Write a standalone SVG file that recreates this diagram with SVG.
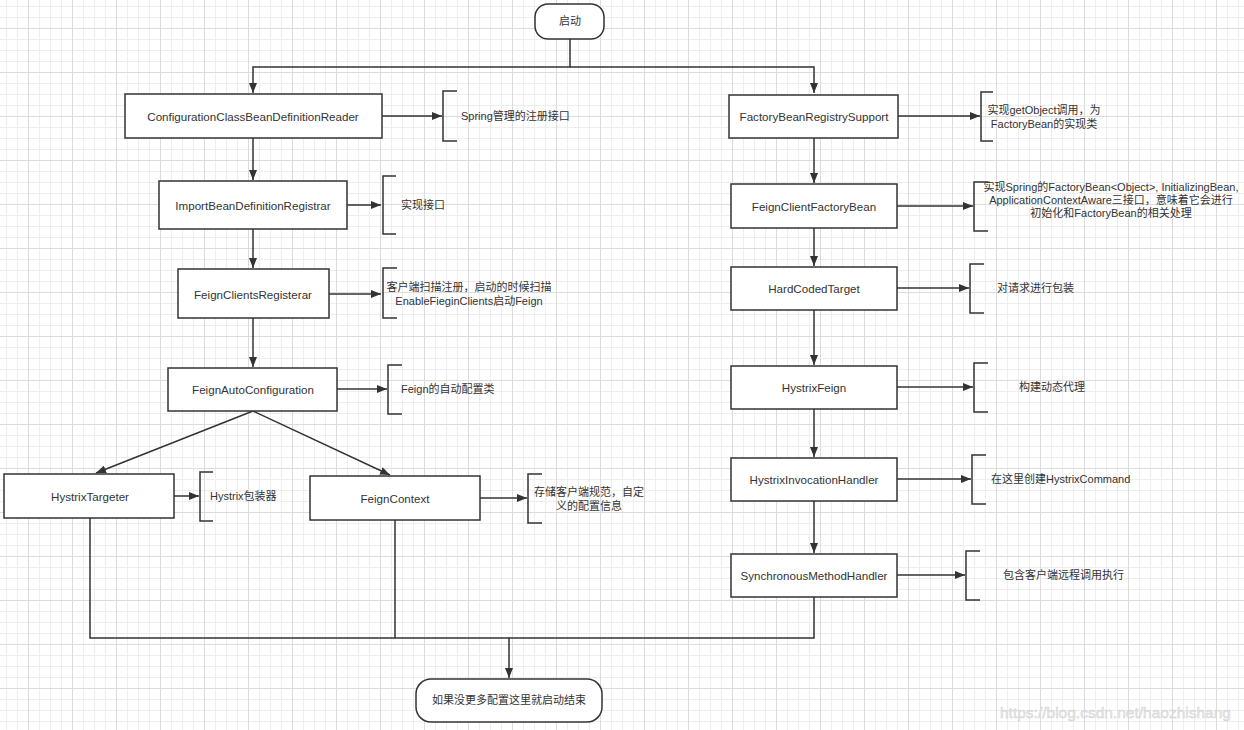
<svg xmlns="http://www.w3.org/2000/svg" width="1244" height="730" viewBox="0 0 1244 730">
<style>
.box{fill:#fff;stroke:#333;stroke-width:1.5}
.br{fill:none;stroke:#333;stroke-width:1.5}
.ln{fill:none;stroke:#333;stroke-width:1.5}
.t{font-family:"Liberation Sans","Noto Sans CJK SC",sans-serif;font-size:11px;fill:#333;dominant-baseline:central}
.b{font-size:11.6px}
.c{text-anchor:middle}
</style>
<defs>
<pattern id="grid" x="6" y="6" width="44" height="44" patternUnits="userSpaceOnUse">
<path d="M0.5,0V44M11.5,0V44M33.5,0V44M0,0.5H44M0,11.5H44M0,33.5H44" stroke="#eeeeee" stroke-width="1" fill="none"/>
<path d="M22.5,0V44M0,22.5H44" stroke="#dcdcdc" stroke-width="1" fill="none"/>
</pattern>
<marker id="arr" markerWidth="10" markerHeight="8" refX="10" refY="4" orient="auto" markerUnits="userSpaceOnUse">
<path d="M0,0L10,4L0,8z" fill="#333"/>
</marker>
</defs>
<rect width="1244" height="730" fill="#fff"/>
<rect width="1244" height="730" fill="url(#grid)"/>

<g id="connectors">
<path class="ln" d="M570,39V67H253V93" marker-end="url(#arr)"/>
<path class="ln" d="M570,67H814V93" marker-end="url(#arr)"/>
<path class="ln" d="M253,138V180" marker-end="url(#arr)"/>
<path class="ln" d="M253,229V268" marker-end="url(#arr)"/>
<path class="ln" d="M253,318V367" marker-end="url(#arr)"/>
<path class="ln" d="M253,411L96,473" marker-end="url(#arr)"/>
<path class="ln" d="M253,411L390,475" marker-end="url(#arr)"/>
<path class="ln" d="M814,138V183" marker-end="url(#arr)"/>
<path class="ln" d="M814,228V266" marker-end="url(#arr)"/>
<path class="ln" d="M814,310V365" marker-end="url(#arr)"/>
<path class="ln" d="M814,409V457" marker-end="url(#arr)"/>
<path class="ln" d="M814,501V553" marker-end="url(#arr)"/>
<path class="ln" d="M90,518V638H509V678" marker-end="url(#arr)"/>
<path class="ln" d="M395,520V638"/>
<path class="ln" d="M814,597V638H509"/>
<path class="ln" d="M382,116H442" marker-end="url(#arr)"/>
<path class="ln" d="M347,205H381" marker-end="url(#arr)"/>
<path class="ln" d="M329,294H381" marker-end="url(#arr)"/>
<path class="ln" d="M337,389H387" marker-end="url(#arr)"/>
<path class="ln" d="M174,496H199" marker-end="url(#arr)"/>
<path class="ln" d="M480,498H527" marker-end="url(#arr)"/>
<path class="ln" d="M898,116H980" marker-end="url(#arr)"/>
<path class="ln" d="M897,206H973" marker-end="url(#arr)"/>
<path class="ln" d="M897,288H969" marker-end="url(#arr)"/>
<path class="ln" d="M897,387H973" marker-end="url(#arr)"/>
<path class="ln" d="M897,479H971" marker-end="url(#arr)"/>
<path class="ln" d="M897,575H965" marker-end="url(#arr)"/>
</g>

<g id="start">
<rect class="box" x="535" y="4" width="69" height="35" rx="13"/>
<text class="t c" x="570" y="21">启动</text>
</g>
<g id="end">
<rect class="box" x="416" y="679" width="186" height="43" rx="15"/>
<text class="t c" x="509" y="700">如果没更多配置这里就启动结束</text>
</g>

<g id="n-configReader">
<rect class="box" x="125" y="94" width="257" height="44"/>
<text class="t b c" x="253" y="116">ConfigurationClassBeanDefinitionReader</text>
</g>
<g id="note-configReader">
<path class="br" d="M457,91H443V141H457"/>
<text class="t" x="461" y="116">Spring管理的注册接口</text>
</g>

<g id="n-importReg">
<rect class="box" x="159" y="181" width="188" height="48"/>
<text class="t b c" x="253" y="205">ImportBeanDefinitionRegistrar</text>
</g>
<g id="note-importReg">
<path class="br" d="M396,176H383V234H396"/>
<text class="t" x="401" y="205">实现接口</text>
</g>

<g id="n-clientsReg">
<rect class="box" x="178" y="269" width="151" height="49"/>
<text class="t b c" x="253" y="294">FeignClientsRegisterar</text>
</g>
<g id="note-clientsReg">
<path class="br" d="M397,268H383V318H397"/>
<text class="t c" x="469" y="287">客户端扫描注册，启动的时候扫描</text>
<text class="t c" x="469" y="301">EnableFieginClients启动Feign</text>
</g>

<g id="n-autoConfig">
<rect class="box" x="168" y="368" width="169" height="43"/>
<text class="t b c" x="253" y="389">FeignAutoConfiguration</text>
</g>
<g id="note-autoConfig">
<path class="br" d="M402,365H388V414H402"/>
<text class="t" x="401" y="389">Feign的自动配置类</text>
</g>

<g id="n-hystrixTargeter">
<rect class="box" x="4" y="474" width="170" height="44"/>
<text class="t b c" x="90" y="496">HystrixTargeter</text>
</g>
<g id="note-hystrixTargeter">
<path class="br" d="M213,472H200V521H213"/>
<text class="t" x="210" y="496">Hystrix包装器</text>
</g>

<g id="n-feignContext">
<rect class="box" x="310" y="476" width="170" height="44"/>
<text class="t b c" x="395" y="498">FeignContext</text>
</g>
<g id="note-feignContext">
<path class="br" d="M542,474H528V523H542"/>
<text class="t c" x="589" y="492">存储客户端规范，自定</text>
<text class="t c" x="589" y="506">义的配置信息</text>
</g>

<g id="n-factoryBeanReg">
<rect class="box" x="729" y="95" width="169" height="43"/>
<text class="t b c" x="814" y="116">FactoryBeanRegistrySupport</text>
</g>
<g id="note-factoryBeanReg">
<path class="br" d="M993,92H981V141H993"/>
<text class="t c" x="1044" y="110">实现getObject调用，为</text>
<text class="t c" x="1044" y="124">FactoryBean的实现类</text>
</g>

<g id="n-clientFactoryBean">
<rect class="box" x="731" y="184" width="166" height="44"/>
<text class="t b c" x="814" y="206">FeignClientFactoryBean</text>
</g>
<g id="note-clientFactoryBean">
<path class="br" d="M988,182H974V231H988"/>
<text class="t c" x="1111" y="187">实现Spring的FactoryBean&lt;Object&gt;, InitializingBean,</text>
<text class="t c" x="1111" y="200">ApplicationContextAware三接口，意味着它会进行</text>
<text class="t c" x="1111" y="213">初始化和FactoryBean的相关处理</text>
</g>

<g id="n-hardCoded">
<rect class="box" x="731" y="267" width="166" height="43"/>
<text class="t b c" x="814" y="288">HardCodedTarget</text>
</g>
<g id="note-hardCoded">
<path class="br" d="M984,264H970V313H984"/>
<text class="t" x="997" y="288">对请求进行包装</text>
</g>

<g id="n-hystrixFeign">
<rect class="box" x="731" y="366" width="166" height="43"/>
<text class="t b c" x="814" y="387">HystrixFeign</text>
</g>
<g id="note-hystrixFeign">
<path class="br" d="M988,363H974V412H988"/>
<text class="t" x="1019" y="387">构建动态代理</text>
</g>

<g id="n-invocationHandler">
<rect class="box" x="731" y="458" width="166" height="43"/>
<text class="t b c" x="814" y="479">HystrixInvocationHandler</text>
</g>
<g id="note-invocationHandler">
<path class="br" d="M986,455H972V504H986"/>
<text class="t" x="991" y="479">在这里创建HystrixCommand</text>
</g>

<g id="n-syncHandler">
<rect class="box" x="731" y="554" width="166" height="43"/>
<text class="t b c" x="814" y="575">SynchronousMethodHandler</text>
</g>
<g id="note-syncHandler">
<path class="br" d="M980,551H966V600H980"/>
<text class="t" x="1003" y="575">包含客户端远程调用执行</text>
</g>

<text x="1000" y="712" style="font-family:'Liberation Sans',sans-serif;font-size:15.5px;fill:#e6e6e6;stroke:#d0d0d0;stroke-width:0.4;dominant-baseline:central">https://blog.csdn.net/haozhishang</text>
</svg>
